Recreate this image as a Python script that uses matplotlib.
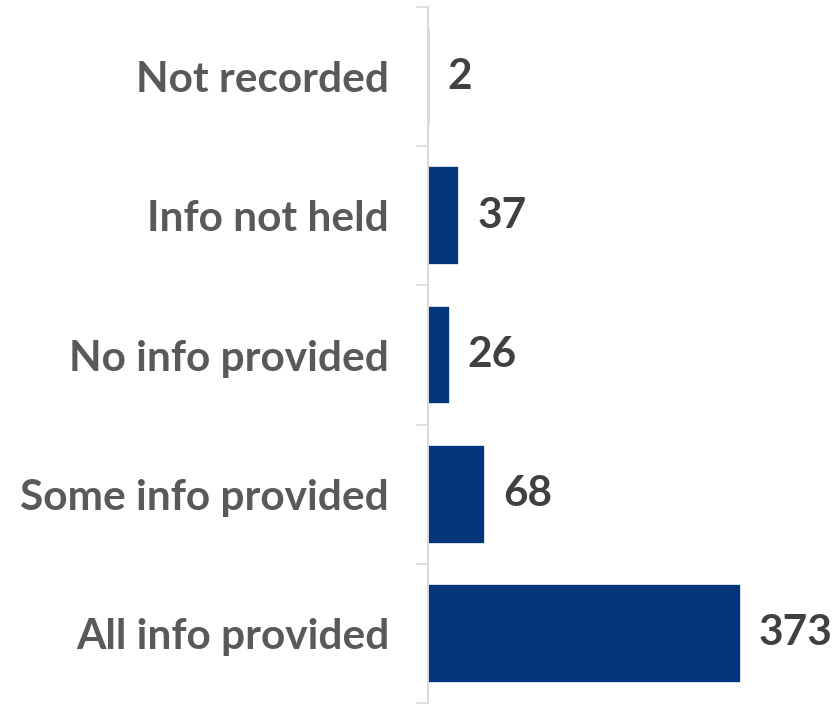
import matplotlib
matplotlib.use("Agg")
import matplotlib.pyplot as plt
from matplotlib.ticker import FixedLocator

categories = ["Not recorded", "Info not held", "No info provided",
              "Some info provided", "All info provided"]
values = [2, 37, 26, 68, 373]

W, H = 834, 704
fig = plt.figure(figsize=(W / 100, H / 100), dpi=100)
ax_left, ax_top, ax_bottom = 428, 7, 703
ax = fig.add_axes([ax_left / W, (H - ax_bottom) / H,
                   (W - ax_left) / W, (ax_bottom - ax_top) / H])

bar_color = "#03357a"
label_grey = "#595959"
value_grey = "#404040"
axis_grey = "#d9d9d9"

pos = list(range(len(categories)))
bars = ax.barh(pos, values, height=0.71, color=bar_color,
               edgecolor="white", linewidth=1.2, zorder=1)

ax.set_ylim(len(categories) - 0.5, -0.5)
ax.set_xlim(0, 484)

font = dict(family="Lato", weight="bold", size=30.5)

# boundaries get tick marks, centers get the category names
ax.yaxis.set_major_locator(FixedLocator([i - 0.5 for i in range(len(categories) + 1)]))
ax.yaxis.set_minor_locator(FixedLocator(pos))
ax.set_yticklabels([], minor=False)
ax.set_yticklabels(categories, minor=True, color=label_grey, **font)
ax.tick_params(axis="y", which="major", length=8.6, width=1.1, color=axis_grey, direction="out")
ax.tick_params(axis="y", which="minor", length=0, pad=28)
ax.set_xticks([])

for s in ["top", "right", "bottom"]:
    ax.spines[s].set_visible(False)
ax.spines["left"].set_color(axis_grey)
ax.spines["left"].set_linewidth(1.4)
ax.spines["left"].set_zorder(3)

for b, v in zip(bars, values):
    ax.annotate(str(v), xy=(b.get_x() + b.get_width(), b.get_y() + b.get_height() / 2),
                xytext=(13, 0), textcoords="offset points",
                ha="left", va="center", color=value_grey, **font)

fig.savefig("out.png", dpi=100)
